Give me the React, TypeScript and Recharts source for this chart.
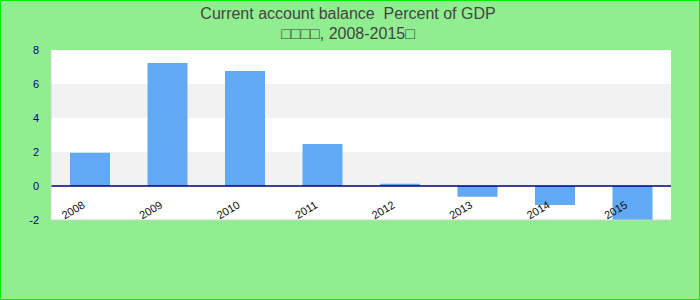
import { BarChart, Bar, XAxis, YAxis, CartesianGrid, ReferenceLine } from 'recharts'

const years = ['2008', '2009', '2010', '2011', '2012', '2013', '2014', '2015']
const balance = [1.96, 7.24, 6.76, 2.47, 0.13, -0.63, -1.12, -2.0]
const yTicks = [-2, 0, 2, 4, 6, 8]

const chartData = years.map((y, i) => ({ year: y, value: balance[i] }))

const font = '"Liberation Sans", Arial, sans-serif'

// rotated year labels, sitting just under the zero line
function YearTick({ x, y, payload }: any) {
  return (
    <g transform={`translate(${x - 4},${y - 15})`}>
      <text transform="rotate(-31)" textAnchor="end" fontSize={11} fill="#111" fontFamily={font}>
        {payload.value}
      </text>
    </g>
  )
}

export default function App() {
  return (
    <div
      style={{
        position: 'absolute', left: 0, top: 0, width: 700, height: 300,
        background: '#90ee90', border: '1px solid #00ee00', boxSizing: 'border-box',
        fontFamily: font,
      }}
    >
      <div
        style={{
          position: 'absolute', top: 3, left: -3, width: 700, textAlign: 'center',
          fontSize: 16, lineHeight: '20px', color: '#444',
        }}
      >
        <div>Current account balance&nbsp; Percent of GDP</div>
        <div>□□□□, 2008-2015□</div>
      </div>
      <BarChart width={698} height={298} data={chartData} margin={{ top: 49, right: 28, bottom: 49, left: 0 }}>
        <CartesianGrid horizontal={false} vertical={false} fill="#ffffff" />
        <CartesianGrid vertical={false} stroke="none" horizontalFill={['#ffffff', '#f2f2f2']} />
        <XAxis
          dataKey="year"
          height={30}
          tickLine={false}
          tickSize={0}
          axisLine={{ stroke: '#d0d0d0' }}
          tick={<YearTick />}
          interval={0}
        />
        <XAxis xAxisId="top" orientation="top" height={0} tick={false} tickLine={false} axisLine={{ stroke: '#d0d0d0' }} />
        <YAxis
          width={50}
          domain={[-2, 8]}
          ticks={yTicks}
          tickLine={false}
          axisLine={{ stroke: '#d0d0d0' }}
          tick={{ fill: '#00008b', fontSize: 11, fontFamily: font }}
          tickMargin={6}
        />
        <YAxis yAxisId="right" orientation="right" width={0} tick={false} tickLine={false} axisLine={{ stroke: '#d0d0d0' }} />
        <Bar dataKey="value" fill="#62a9f5" barSize={40} isAnimationActive={false} />
        <ReferenceLine y={0} stroke="#000080" strokeWidth={1.5} />
      </BarChart>
    </div>
  )
}
